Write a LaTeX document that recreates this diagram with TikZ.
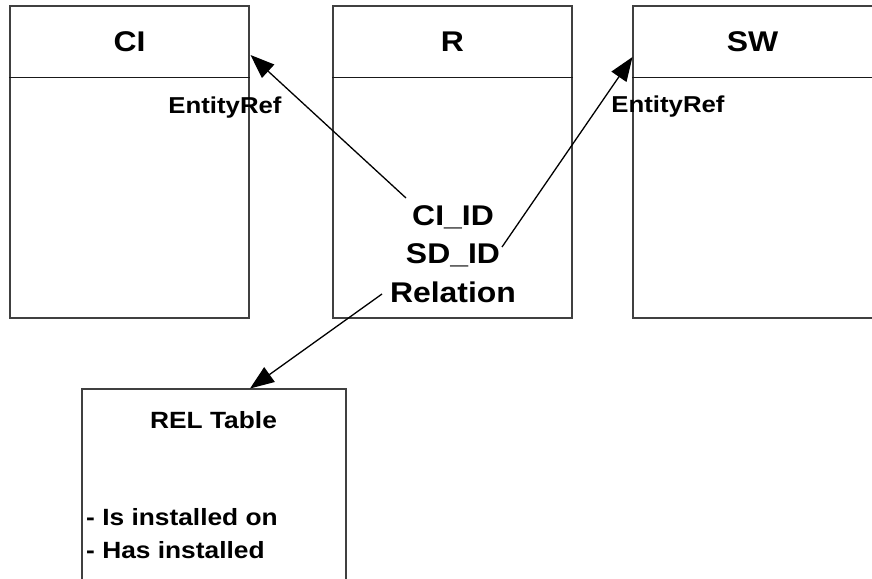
\documentclass[tikz,border=0pt]{standalone}
\usepackage{fontspec}
\setmainfont{Liberation Sans}[FakeStretch=1.12]
\usetikzlibrary{arrows.meta}
\tikzset{
  tablebox/.style={draw=black!75, line width=1.1pt, inner sep=0pt, fill=none},
  divider/.style={draw=black!90, line width=1pt},
  titletext/.style={font=\fontsize{28.5}{32}\selectfont\bfseries, inner sep=0pt, anchor=base},
  fieldtext/.style={font=\fontsize{28.5}{32}\selectfont\bfseries, inner sep=0pt, anchor=base},
  reftext/.style={font=\fontsize{23}{26}\selectfont\bfseries, inner sep=0pt, anchor=base},
  reltext/.style={font=\fontsize{23.5}{27}\selectfont\bfseries, inner sep=0pt, anchor=base},
  link/.style={draw=black, line width=1.3pt, -{Triangle[length=24pt,width=18pt]}}
}
\begin{document}
\begin{tikzpicture}[x=1pt,y=-1pt]
\useasboundingbox (0,0) rectangle (872,578);

% entity tables
\node[tablebox, minimum width=239pt, minimum height=312pt] (ci) at (129.5,162) {};
\node[tablebox, minimum width=239pt, minimum height=312pt] (r)  at (452.5,162) {};
\node[tablebox, minimum width=241pt, minimum height=312pt] (sw) at (753.5,162) {};
\node[tablebox, minimum width=264pt, minimum height=201pt] (rel) at (214,489.5) {};

% header separators
\foreach \t in {ci,r,sw}
  \draw[divider] ([yshift=-72pt]\t.north west) -- ([yshift=-72pt]\t.north east);

% headers
\node[titletext] (cititle) at (129.5,52) {CI};
\node[titletext] (rtitle)  at (452.5,52) {R};
\node[titletext] (swtitle) at (752.5,52) {SW};

% reference labels
\node[reftext] (ciref) at (225,113) {EntityRef};
\node[reftext] (swref) at (668,112) {EntityRef};

% relation fields
\node[fieldtext] (cifield)  at (453,225) {CI\_ID};
\node[fieldtext] (sdfield)  at (453,263) {SD\_ID};
\node[fieldtext] (relfield) at (453,302) {Relation};

% relation table contents
\node[reltext] (reltitle) at (213.5,428) {REL Table};
\node[reltext, anchor=base west] (relone) at (86,525) {- Is installed on};
\node[reltext, anchor=base west] (reltwo) at (86,558) {- Has installed};

% connector end points
\coordinate (cistart)  at (406,198);
\coordinate (ciend)    at (250.5,55);
\coordinate (sdstart)  at (502,247);
\coordinate (swend)    at (632.5,57);
\coordinate (relstart) at (382,294);
\coordinate (relend)   at (250,388.5);

\draw[link] (cistart) -- (ciend);
\draw[link] (sdstart) -- (swend);
\draw[link] (relstart) -- (relend);
\end{tikzpicture}
\end{document}
